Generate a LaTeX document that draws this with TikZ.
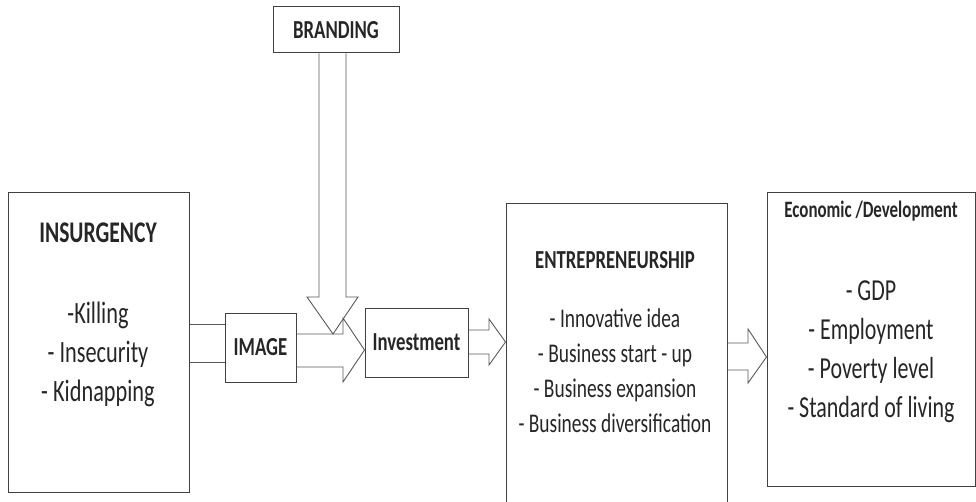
\documentclass[tikz,border=0pt]{standalone}
\usepackage{fontspec}
\setmainfont{Carlito}[FakeStretch=0.72]
\tikzstyle{plainbox}=[rectangle,draw=black!75,line width=1pt,
                      inner sep=0pt,text=black!85]
\tikzstyle{boxtext}=[inner sep=0pt,align=center,text=black!85]
\tikzstyle{fatarrow}=[draw=black!65,line width=0.9pt,line join=miter]

\begin{document}
\begin{tikzpicture}[x=1pt,y=-1pt]
    \useasboundingbox (0,0) rectangle (976,502);
    \clip (0,0) rectangle (976,502);
    % boxes
    \node (brand) at (336,30) [plainbox,minimum width=126pt,minimum height=46pt,
        font={\fontsize{26}{30}\selectfont\bfseries}]{BRANDING};
    \node (ins) at (98.5,342.5) [plainbox,minimum width=181pt,minimum height=299pt]{};
    \node (img) at (260.5,347.5) [plainbox,minimum width=71pt,minimum height=69pt,
        font={\fontsize{26}{30}\selectfont\bfseries}]{IMAGE};
    \node (inv) at (416.5,342.5) [plainbox,minimum width=103pt,minimum height=69pt,
        font={\fontsize{26}{30}\selectfont\bfseries}]{Investment};
    \node (ent) at (616.5,362) [plainbox,minimum width=221pt,minimum height=316pt]{};
    \node (eco) at (871,339.5) [plainbox,minimum width=208pt,minimum height=293pt]{};
    % texts in the tall boxes
    \node (insT) at (98,233) [boxtext,font={\fontsize{30}{34}\selectfont\bfseries}]{INSURGENCY};
    \node (insL) at (98,354) [boxtext,font={\fontsize{31}{39}\selectfont}]
        {-Killing\\- Insecurity\\- Kidnapping};
    \node (entT) at (615,260) [boxtext,font={\fontsize{26}{30}\selectfont\bfseries}]{ENTREPRENEURSHIP};
    \node (entL) at (615,370.5) [boxtext,font={\fontsize{27}{35}\selectfont}]
        {- Innovative idea\\- Business start - up\\- Business expansion\\
        - Business diversification};
    \node (ecoT) at (871,211) [boxtext,font={\fontsize{23.5}{27}\selectfont\bfseries}]{Economic /Development};
    \node (ecoL) at (871,351.5) [boxtext,font={\fontsize{30.5}{39}\selectfont}]
        {- GDP\\- Employment\\- Poverty level\\- Standard of living};
    % block arrows
    \draw[fatarrow] (brand.south -| 319,0) -- (319,297) -- (307,297) -- (333,334)
        -- (358,297) -- (346,297) -- (brand.south -| 346,0);
    \draw[fatarrow] (ins.east |- 0,324) -- (img.west |- 0,324);
    \draw[fatarrow] (ins.east |- 0,362) -- (img.west |- 0,362);
    \draw[fatarrow] (img.east |- 0,334) -- (343,334) -- (343,318) -- (inv.west |- 0,350)
        -- (343,382) -- (343,367) -- (img.east |- 0,367);
    \draw[fatarrow] (inv.east |- 0,330) -- (489,330) -- (489,319) -- (ent.west |- 0,342)
        -- (489,365) -- (489,354) -- (inv.east |- 0,354);
    \draw[fatarrow] (ent.east |- 0,343) -- (748,343) -- (748,329) -- (eco.west |- 0,357)
        -- (748,383) -- (748,370) -- (ent.east |- 0,370);
\end{tikzpicture}
\end{document}
